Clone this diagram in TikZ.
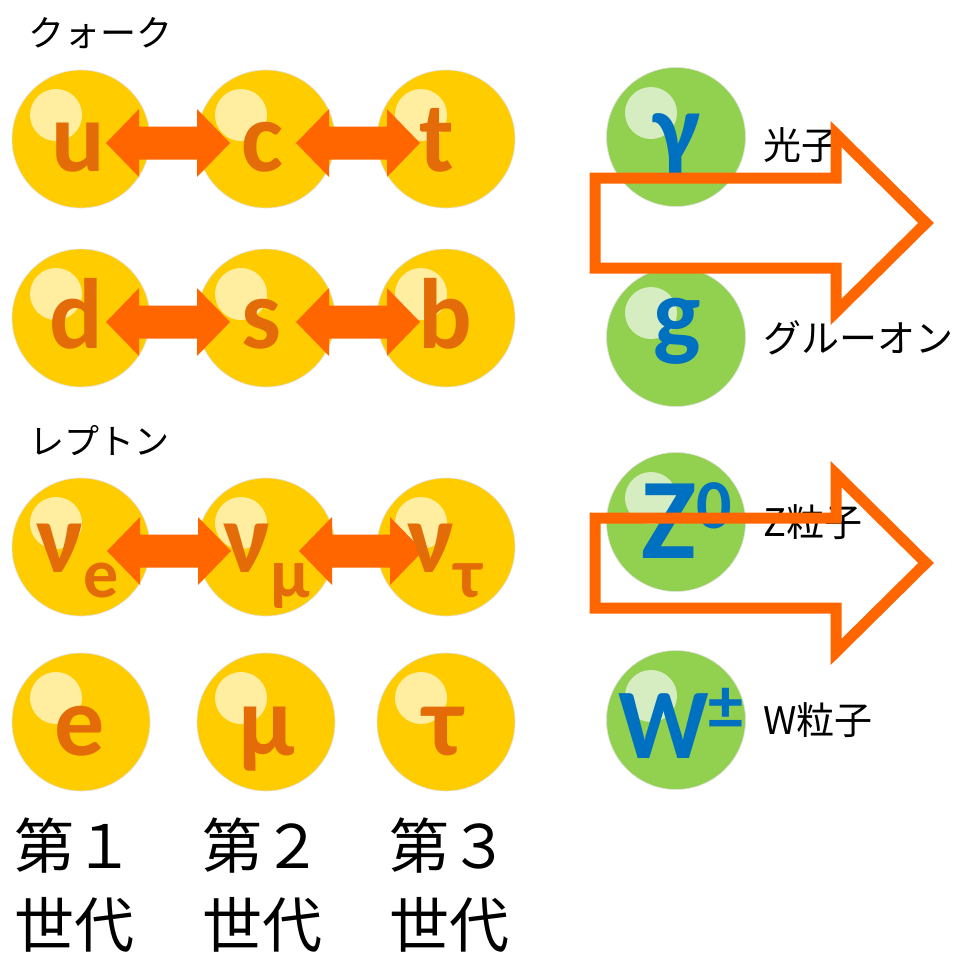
\documentclass[tikz,border=0pt]{standalone}
\usepackage{fontspec}
\newfontfamily\jpfont{Noto Sans CJK JP}
\newfontfamily\calfont{Carlito}
\usetikzlibrary{calc}
\definecolor{ylw}{HTML}{FFCC00}
\definecolor{ylwhi}{HTML}{FFEDA0}
\definecolor{ltrorg}{HTML}{E36C09}
\definecolor{arrorg}{HTML}{FF6600}
\definecolor{grn}{HTML}{92D050}
\definecolor{grnhi}{HTML}{D5EDC0}
\definecolor{blu}{HTML}{0070C0}
\tikzset{
  yball/.style={circle, fill=ylw, draw=black!12, line width=0.6pt, minimum size=138pt, inner sep=0pt},
  gball/.style={circle, fill=grn, draw=black!12, line width=0.6pt, minimum size=139pt, inner sep=0pt},
  yhi/.style={circle, fill=ylwhi, minimum size=52pt, inner sep=0pt},
  ghi/.style={circle, fill=grnhi, minimum size=52pt, inner sep=0pt},
  ylet/.style={anchor=base, inner sep=0pt, text=ltrorg, font=\calfont\bfseries\fontsize{100}{100}\selectfont},
  glet/.style={anchor=base, inner sep=0pt, text=blu, font=\calfont\bfseries\fontsize{100}{100}\selectfont},
  toplbl/.style={anchor=west, inner sep=0pt, font=\jpfont\fontsize{36}{36}\selectfont},
  rlbl/.style={anchor=west, inner sep=0pt, font=\jpfont\fontsize{38}{38}\selectfont},
  genlbl/.style={anchor=base west, inner sep=0pt, font=\jpfont\fontsize{60}{60}\selectfont},
  dblarr/.pic={\fill[arrorg] (-62,0) -- (-29,-34) -- (-29,-16.5) -- (29,-16.5) -- (29,-34) -- (62,0) -- (29,34) -- (29,16.5) -- (-29,16.5) -- (-29,34) -- cycle;},
  hollowarr/.pic={\draw[arrorg, line width=11pt, miter limit=10] (0,-45) -- (241,-45) -- (241,-89) -- (331,0) -- (241,89) -- (241,45) -- (0,45) -- cycle;}
}
\newcommand{\subtxt}[1]{\raisebox{-25pt}{\fontsize{70}{70}\selectfont #1}}
\newcommand{\suptxt}[2]{\raisebox{#1}{\fontsize{70}{70}\selectfont #2}}
\begin{document}
\begin{tikzpicture}[x=1pt,y=-1pt]
\fill[white] (0,0) rectangle (963,959);
\useasboundingbox (0,0) rectangle (963,959);

% yellow balls
\foreach \n/\x/\y in {bu/81/139, bc/266/139, bt/446/139,
                      bd/81/318, bs/266/318, bb/446/318,
                      bne/81/547, bnm/266/547, bnt/446/547,
                      be/81/722, bm/266/722, bta/446/722}{
  \node[yball] (\n) at (\x,\y) {};
  \node[yhi] (\n-hi) at ($(\n)+(-25,-24)$) {};
}
% green balls
\foreach \n/\y in {bg/137, bgl/337, bz/522, bw/720}{
  \node[gball] (\n) at (676,\y) {};
  \node[ghi] (\n-hi) at ($(\n)+(-25,-24)$) {};
}

% double arrows
\pic (a1) at (168,143) {dblarr};
\pic (a2) at (358,143) {dblarr};
\pic (a3) at (168,322) {dblarr};
\pic (a4) at (358,322) {dblarr};
\pic (a5) at (169,551) {dblarr};
\pic (a6) at (361,551) {dblarr};

% quark / lepton letters
\node[ylet] (lu) at (78,171) {u};
\node[ylet] (lc) at (262,171) {c};
\node[ylet] (lt) at (437,171) {t};
\node[ylet] (ld) at (76,348) {d};
\node[ylet] (ls) at (261,348) {s};
\node[ylet] (lb) at (445,348) {b};
\node[ylet] (lne) at (78,572) {ν\subtxt{e}};
\node[ylet] (lnm) at (267,572) {ν\subtxt{μ}};
\node[ylet] (lnt) at (445,572) {ν\subtxt{τ}};
\node[ylet] (le) at (80,755) {e};
\node[ylet] (lm) at (267,755) {μ};
\node[ylet] (lta) at (443,755) {τ};

% boson letters
\node[glet] (lg) at (677,162) {γ};
\node[glet] (lgl) at (677,347) {g};
\node[glet] (lz) at (687,558) {{\fontsize{115}{115}\selectfont Z}\suptxt{30pt}{0}};
\node[glet] (lw) at (681,758) {W\suptxt{29pt}{±}};

% labels
\node[toplbl] (quark) at (28,33) {クォーク};
\node[toplbl, font=\jpfont\fontsize{35}{35}\selectfont] (lepton) at (29,441) {レプトン};
\node[rlbl] (photon) at (763,145) {光子};
\node[rlbl] (gluon) at (763,338) {グルーオン};
\node[rlbl] (zlab) at (763,522) {Z粒子};
\node[rlbl] (wlab) at (763,720) {W粒子};

% generation labels
\node[genlbl] (g1a) at (14.5,868) {第１};
\node[genlbl] (g1b) at (14.5,947) {世代};
\node[genlbl] (g2a) at (202.5,868) {第２};
\node[genlbl] (g2b) at (202.5,947) {世代};
\node[genlbl] (g3a) at (389.5,868) {第３};
\node[genlbl] (g3b) at (389.5,947) {世代};

% hollow arrows
\pic (h1) at (595,223) {hollowarr};
\pic (h2) at (595,563) {hollowarr};
\end{tikzpicture}
\end{document}
